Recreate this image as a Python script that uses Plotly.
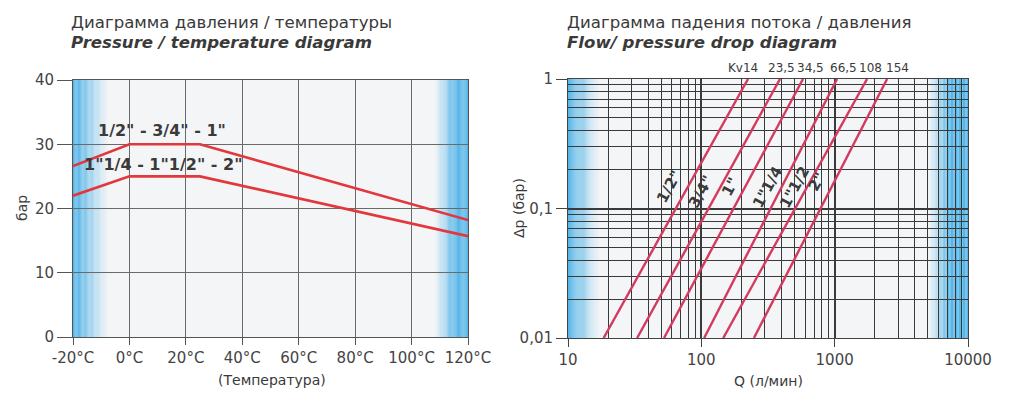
import numpy as np
import plotly.graph_objects as go

# ---------------- data: pressure / temperature ----------------
temp = [-20, 0, 25, 120]
p_small = [26.6, 30, 30, 18.2]      # 1/2" - 3/4" - 1"
p_large = [22.0, 25, 25, 15.7]      # 1"1/4 - 1"1/2" - 2"
temp_ticks = [-20, 0, 20, 40, 60, 80, 100, 120]
temp_ticklabels = ["-20°C", "0°C", "20°C", "40°C", "60°C", "80°C", "100°C", "120°C"]
bar_ticks = [0, 10, 20, 30, 40]
small_label = '1/2" - 3/4" - 1"'
large_label = '1"1/4 - 1"1/2" - 2"'

# ---------------- data: flow / pressure drop ----------------
kv = [14, 23.5, 34.5, 66.5, 108, 154]
kv_labels = ["Kv14", "23,5", "34,5", "66,5", "108", "154"]
kv_label_q = [205, 396, 654, 1156, 1845, 2937]
sizes = ['1/2"', '3/4"', '1"', '1"1/4', '1"1/2', '2"']
dp_ends = [0.01, 1]
q_at_low = [18.5, 33, 52.5, 105, 146, 248]        # Q at 0,01 bar
q_at_high = [224, 389, 579, 1042, 1750, 2473]     # Q at 1 bar
size_label_q = [57, 99, 164, 314, 502, 735]
size_label_dp = [0.147, 0.134, 0.147, 0.147, 0.147, 0.16]
q_ticks = [10, 100, 1000, 10000]
q_ticklabels = ["10", "100", "1000", "10000"]
dp_ticks = [0.01, 0.1, 1]
dp_ticklabels = ["0,01", "0,1", "1"]

W, H = 1013, 396
FONT = "DejaVu Sans"
TXT = "#3a3a3a"
BG = (244, 245, 247)
BLUE = (86, 182, 232)


def px(x):
    return x / W


def py(y):
    return 1 - y / H


fig = go.Figure()

red = "#e2373d"
fig.add_trace(go.Scatter(x=temp, y=p_small, mode="lines", line=dict(color=red, width=2.6),
                         xaxis="x", yaxis="y", showlegend=False, hoverinfo="skip"))
fig.add_trace(go.Scatter(x=temp, y=p_large, mode="lines", line=dict(color=red, width=2.6),
                         xaxis="x", yaxis="y", showlegend=False, hoverinfo="skip"))

crimson = "#d23a60"
for lo, hi in zip(q_at_low, q_at_high):
    fig.add_trace(go.Scatter(x=[lo, hi], y=dp_ends, mode="lines",
                             line=dict(color=crimson, width=2.4),
                             xaxis="x2", yaxis="y2", showlegend=False, hoverinfo="skip"))

shapes = []


def gradient(xref, yref, edge, fade_end, solid_frac, n=30):
    for i in range(n):
        a = i / n
        b = (i + 1) / n
        s = (a + b) / 2
        if s < solid_frac:
            t = 1.0
        else:
            t = 1 - (s - solid_frac) / (1 - solid_frac)
        t = max(0.0, min(1.0, t)) ** 1.1
        col = tuple(int(round(BG[k] + (BLUE[k] - BG[k]) * t)) for k in range(3))
        x0 = edge + (fade_end - edge) * a
        x1 = edge + (fade_end - edge) * b
        shapes.append(dict(type="rect", xref=xref, yref=yref, x0=min(x0, x1), x1=max(x0, x1),
                           y0=0, y1=1, line=dict(width=0), fillcolor="rgb(%d,%d,%d)" % col,
                           layer="below"))


gradient("x domain", "y domain", 0.0, 0.09, 0.12)
gradient("x domain", "y domain", 1.0, 1 - 0.085, 0.4)
gradient("x2 domain", "y2 domain", 0.0, 0.08, 0.12)
gradient("x2 domain", "y2 domain", 1.0, 1 - 0.10, 0.45)

minor_x = [d * 10 ** k for k in range(1, 4) for d in range(2, 10)]
minor_y = [d * 10.0 ** k for k in range(-2, 0) for d in range(2, 10)]

tickfont = dict(family=FONT, size=15, color="#444")
grid_l = "#6a6a6a"
grid_r = "#3a3a3a"

ann = []


def text_at(x, y, text, size, angle=0, xanchor="center"):
    ann.append(dict(x=px(x), y=py(y), xref="paper", yref="paper", xanchor=xanchor,
                    yanchor="middle", text=text, textangle=angle, showarrow=False,
                    font=dict(family=FONT, size=size, color=TXT)))


# titles
text_at(69, 22, "Диаграмма давления / температуры", 16.6, xanchor="left")
text_at(69, 42, "<b><i>Pressure / temperature diagram</i></b>", 16.6, xanchor="left")
text_at(565, 22, "Диаграмма падения потока / давления", 16.6, xanchor="left")
text_at(565, 42, "<b><i>Flow/ pressure drop diagram</i></b>", 16.6, xanchor="left")
# axis titles
text_at(22, 208, "бар", 14, angle=-90)
text_at(272, 380, "(Температура)", 14)
text_at(519, 208, "Δp (бар)", 14, angle=-90)
text_at(768, 381, "Q (л/мин)", 14)

# left line labels
ann.append(dict(x=11.5, y=32.1, xref="x", yref="y", text="<b>%s</b>" % small_label, showarrow=False,
                font=dict(family=FONT, size=16, color=TXT)))
ann.append(dict(x=11.9, y=26.9, xref="x", yref="y", text="<b>%s</b>" % large_label, showarrow=False,
                font=dict(family=FONT, size=16, color=TXT)))
# Kv labels above right chart
for q, lab in zip(kv_label_q, kv_labels):
    ann.append(dict(x=np.log10(q), y=0, xref="x2", yref="y2", text=lab, showarrow=False,
                    xanchor="center", yanchor="bottom", yshift=2,
                    font=dict(family=FONT, size=12, color=TXT)))
# size labels along lines
for q, dp, lab in zip(size_label_q, size_label_dp, sizes):
    ann.append(dict(x=np.log10(q), y=np.log10(dp), xref="x2", yref="y2", text="<b>%s</b>" % lab,
                    showarrow=False, textangle=-61, font=dict(family=FONT, size=15, color=TXT)))

common = dict(automargin=False, zeroline=False, showline=True, mirror=True, tickfont=tickfont)
fig.update_layout(
    width=W, height=H, margin=dict(l=0, r=0, t=0, b=0, autoexpand=False),
    paper_bgcolor="white", plot_bgcolor="rgb(%d,%d,%d)" % BG,
    showlegend=False, shapes=shapes, annotations=ann,
    xaxis=dict(domain=[px(73), px(468)], range=[-20, 120], tickmode="array", tickvals=temp_ticks,
               ticktext=temp_ticklabels, ticks="outside", ticklen=7, tickcolor="#555",
               showgrid=True, gridcolor=grid_l, gridwidth=1, linecolor="#555", anchor="y", **common),
    yaxis=dict(domain=[py(337), py(80)], range=[0, 40], tickmode="array", tickvals=bar_ticks,
               ticks="outside", ticklen=15, tickcolor="#555", showgrid=True, gridcolor=grid_l,
               gridwidth=1, linecolor="#555", anchor="x", **common),
    xaxis2=dict(domain=[px(568), px(968)], type="log", range=[1, 4], tickmode="array",
                tickvals=q_ticks, ticktext=q_ticklabels, ticks="outside", ticklen=8,
                tickcolor="#444", showgrid=True, gridcolor=grid_r, gridwidth=1.6,
                minor=dict(tickmode="array", tickvals=minor_x, showgrid=True, gridcolor=grid_r,
                           gridwidth=1, ticks=""),
                linecolor="#444", anchor="y2", **common),
    yaxis2=dict(domain=[py(338), py(79)], type="log", range=[-2, 0], tickmode="array",
                tickvals=dp_ticks, ticktext=dp_ticklabels, ticks="outside", ticklen=11,
                tickcolor="#444", showgrid=True, gridcolor=grid_r, gridwidth=1.6,
                minor=dict(tickmode="array", tickvals=minor_y, showgrid=True, gridcolor=grid_r,
                           gridwidth=1, ticks=""),
                linecolor="#444", anchor="x2", **common),
)

fig.write_html("out.html", config={"displayModeBar": False},
               post_script="document.body.style.margin='0';document.body.style.overflow='hidden';")
